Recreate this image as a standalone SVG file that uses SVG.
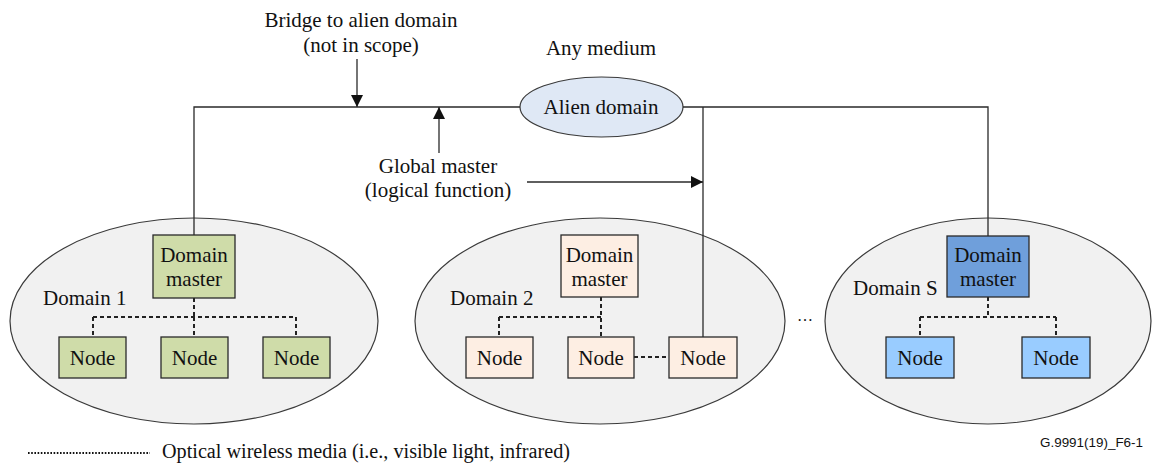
<svg xmlns="http://www.w3.org/2000/svg" width="1153" height="464" viewBox="0 0 1153 464">
<style>
text{font-family:"Liberation Serif","Times New Roman",serif;font-size:21px;fill:#111}
.c{text-anchor:middle}
.dom{fill:#f1f1f1;stroke:#3a3a3a;stroke-width:1.2}
.box{stroke:#2a2a2a;stroke-width:1.3}
.g{fill:#cfdca9}
.p{fill:#fdeee3}
.bm{fill:#6f9fdb}
.bn{fill:#99ccff}
.ln{fill:none;stroke:#2a2a2a;stroke-width:1.3}
.dash{fill:none;stroke:#222;stroke-width:2;stroke-dasharray:4 3}
</style>
<defs>
<marker id="ah" markerWidth="12" markerHeight="12" refX="12" refY="6" orient="auto" markerUnits="userSpaceOnUse">
<path d="M0,0 L12,6 L0,12 Z" fill="#111"/>
</marker>
</defs>

<g id="domain1">
<ellipse class="dom" cx="194" cy="321" rx="184" ry="103"/>
<text x="43" y="305">Domain 1</text>
</g>
<g id="domain2">
<ellipse class="dom" cx="600" cy="321" rx="185" ry="103"/>
<text x="450" y="305">Domain 2</text>
</g>
<g id="domainS">
<ellipse class="dom" cx="988" cy="321" rx="163" ry="103"/>
<text x="853" y="295">Domain S</text>
</g>
<text x="805" y="321" class="c" style="font-size:16px">…</text>

<g id="alien">
<ellipse cx="601.5" cy="107" rx="81.5" ry="30" fill="#dfe8f5" stroke="#3a3a3a" stroke-width="1.2"/>
<text x="601" y="114" class="c">Alien domain</text>
</g>

<g id="connectors">
<path class="ln" d="M194,235 V107 H520"/>
<path class="ln" d="M683,107 H988 V236"/>
<path class="ln" d="M703,107 V337"/>
<path class="ln" d="M357,59 V107" marker-end="url(#ah)"/>
<path class="ln" d="M439,153 V107" marker-end="url(#ah)"/>
<path class="ln" d="M527,182 H703" marker-end="url(#ah)"/>
<path class="dash" d="M194,298 V317 M93,317 H296 M93,317 V337 M194,317 V337 M296,317 V337"/>
<path class="dash" d="M601,297 V337 M499,317 H601 M499,317 V337 M634,357 H669"/>
<path class="dash" d="M988,297 V317 M920,317 H1056 M920,317 V337 M1056,317 V337"/>
</g>

<g id="dm1"><rect class="box g" x="153" y="235" width="82" height="63"/><text x="194" y="262" class="c">Domain</text><text x="194" y="286" class="c">master</text></g>
<g id="n1a"><rect class="box g" x="59" y="337" width="67" height="41"/><text x="92.5" y="365" class="c">Node</text></g>
<g id="n1b"><rect class="box g" x="161" y="337" width="67" height="41"/><text x="194.5" y="365" class="c">Node</text></g>
<g id="n1c"><rect class="box g" x="263" y="337" width="67" height="41"/><text x="296.5" y="365" class="c">Node</text></g>

<g id="dm2"><rect class="box p" x="561" y="235" width="77" height="62"/><text x="599.5" y="262" class="c">Domain</text><text x="599.5" y="286" class="c">master</text></g>
<g id="n2a"><rect class="box p" x="466" y="337" width="67" height="41"/><text x="499.5" y="365" class="c">Node</text></g>
<g id="n2b"><rect class="box p" x="568" y="337" width="66" height="41"/><text x="601" y="365" class="c">Node</text></g>
<g id="n2c"><rect class="box p" x="669" y="337" width="68" height="41"/><text x="703" y="365" class="c">Node</text></g>

<g id="dmS"><rect class="box bm" x="947" y="236" width="82" height="61"/><text x="988" y="262" class="c">Domain</text><text x="988" y="286" class="c">master</text></g>
<g id="nSa"><rect class="box bn" x="886" y="337" width="68" height="41"/><text x="920" y="365" class="c">Node</text></g>
<g id="nSb"><rect class="box bn" x="1022" y="337" width="68" height="41"/><text x="1056" y="365" class="c">Node</text></g>

<g id="labels">
<text x="361" y="27" class="c">Bridge to alien domain</text>
<text x="361" y="52" class="c">(not in scope)</text>
<text x="601" y="55" class="c">Any medium</text>
<text x="438" y="173" class="c">Global master</text>
<text x="438" y="197" class="c">(logical function)</text>
</g>

<g id="legend">
<line x1="28" y1="453" x2="150" y2="453" stroke="#111" stroke-width="2" stroke-dasharray="1.6 1.6"/>
<text x="162" y="458" style="font-size:20px" textLength="408" lengthAdjust="spacingAndGlyphs">Optical wireless media (i.e., visible light, infrared)</text>
<text x="1143" y="447" style="font-family:'Liberation Sans',Arial,sans-serif;font-size:13px;text-anchor:end" textLength="103" lengthAdjust="spacingAndGlyphs">G.9991(19)_F6-1</text>
</g>
</svg>
